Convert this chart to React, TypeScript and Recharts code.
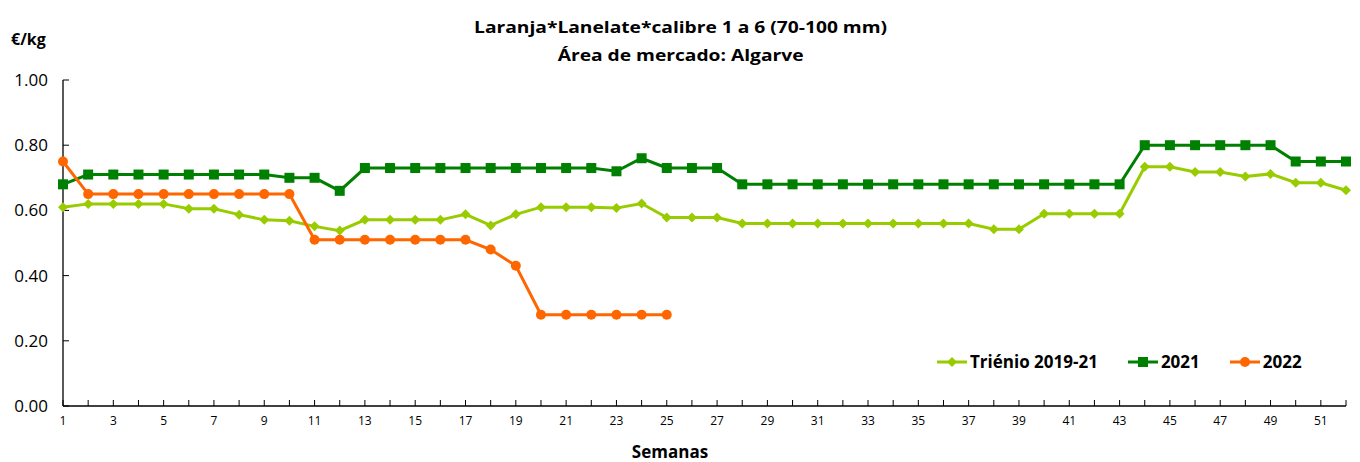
import { LineChart, Line, XAxis, YAxis, Legend } from 'recharts';

const weeks = Array.from({ length: 52 }, (_, i) => i + 1);

// Triénio 2019-21
const trienio = [
  0.61, 0.62, 0.62, 0.62, 0.62, 0.605, 0.605, 0.587, 0.571, 0.568,
  0.551, 0.538, 0.571, 0.571, 0.571, 0.571, 0.588, 0.554, 0.588, 0.61,
  0.61, 0.61, 0.607, 0.621, 0.578, 0.578, 0.578, 0.56, 0.56, 0.56,
  0.56, 0.56, 0.56, 0.56, 0.56, 0.56, 0.56, 0.542, 0.542, 0.59,
  0.59, 0.59, 0.59, 0.734, 0.734, 0.718, 0.718, 0.704, 0.712, 0.685,
  0.685, 0.662,
];

const y2021 = [
  0.68, 0.71, 0.71, 0.71, 0.71, 0.71, 0.71, 0.71, 0.71, 0.70,
  0.70, 0.66, 0.73, 0.73, 0.73, 0.73, 0.73, 0.73, 0.73, 0.73,
  0.73, 0.73, 0.72, 0.76, 0.73, 0.73, 0.73, 0.68, 0.68, 0.68,
  0.68, 0.68, 0.68, 0.68, 0.68, 0.68, 0.68, 0.68, 0.68, 0.68,
  0.68, 0.68, 0.68, 0.80, 0.80, 0.80, 0.80, 0.80, 0.80, 0.75,
  0.75, 0.75,
];

const y2022 = [
  0.75, 0.65, 0.65, 0.65, 0.65, 0.65, 0.65, 0.65, 0.65, 0.65,
  0.51, 0.51, 0.51, 0.51, 0.51, 0.51, 0.51, 0.48, 0.43, 0.28,
  0.28, 0.28, 0.28, 0.28, 0.28,
];

const yTicks = [0, 0.2, 0.4, 0.6, 0.8, 1.0];

const data = weeks.map((w, i) => ({
  week: w,
  trienio: trienio[i],
  y2021: y2021[i],
  y2022: i < y2022.length ? y2022[i] : null,
}));

const FONT = '"Open Sans", Lato, sans-serif';
const LIGHT = '#99CC00';
const DARK = '#008000';
const ORANGE = '#FF6600';

const Diamond = (props: any) => {
  const { cx, cy } = props;
  if (cx == null || cy == null) return null;
  const r = 5;
  return (
    <path
      key={props.key ?? `${cx}-${cy}`}
      d={`M${cx},${cy - r}L${cx + r},${cy}L${cx},${cy + r}L${cx - r},${cy}Z`}
      fill={LIGHT}
    />
  );
};

const Square = (props: any) => {
  const { cx, cy } = props;
  if (cx == null || cy == null) return null;
  const s = 10;
  return <rect key={props.key ?? `${cx}-${cy}`} x={cx - s / 2} y={cy - s / 2} width={s} height={s} fill={DARK} />;
};

const Circle = (props: any) => {
  const { cx, cy } = props;
  if (cx == null || cy == null) return null;
  return <circle key={props.key ?? `${cx}-${cy}`} cx={cx} cy={cy} r={5} fill={ORANGE} />;
};

const legendItems = [
  { name: 'Triénio 2019-21', color: LIGHT, shape: 'diamond' },
  { name: '2021', color: DARK, shape: 'square' },
  { name: '2022', color: ORANGE, shape: 'circle' },
];

const CustomLegend = () => (
  <div style={{ display: 'flex', alignItems: 'center', fontFamily: FONT, fontWeight: 700, fontSize: 17, color: '#000' }}>
    {legendItems.map((it) => (
      <div key={it.name} style={{ display: 'flex', alignItems: 'center', marginRight: 30 }}>
        <svg width={30} height={12} style={{ marginRight: 3 }}>
          <line x1={0} y1={6} x2={30} y2={6} stroke={it.color} strokeWidth={3} />
          {it.shape === 'diamond' && <path d="M15,1L20,6L15,11L10,6Z" fill={it.color} />}
          {it.shape === 'square' && <rect x={10} y={1} width={10} height={10} fill={it.color} />}
          {it.shape === 'circle' && <circle cx={15} cy={6} r={5} fill={it.color} />}
        </svg>
        <span>{it.name}</span>
      </div>
    ))}
  </div>
);

export default function App() {
  return (
    <div style={{ position: 'absolute', left: 0, top: 0, width: 1360, height: 462, background: '#fff', fontFamily: FONT }}>
      <div style={{ position: 'absolute', left: 0, width: 1360, top: 13, textAlign: 'center', fontWeight: 700, fontSize: 16, lineHeight: '28px', color: '#000', transform: 'scaleX(1.2)', transformOrigin: '677px 0' }}>
        <div>Laranja*Lanelate*calibre 1 a 6 (70-100 mm)</div>
        <div>Área de mercado: Algarve</div>
      </div>
      <div style={{ position: 'absolute', left: 11, top: 28, fontWeight: 700, fontSize: 16, color: '#000' }}>€/kg</div>
      <div style={{ position: 'absolute', left: 0, width: 1340, top: 440, textAlign: 'center', fontWeight: 700, fontSize: 17, color: '#000' }}>Semanas</div>
      <LineChart width={1360} height={462} data={data} margin={{ top: 80, right: 14, bottom: 26, left: 13 }}>
        <XAxis
          dataKey="week"
          type="number"
          domain={[1, 52]}
          ticks={weeks}
          interval={0}
          tickFormatter={(v: number) => (v % 2 === 1 ? String(v) : '')}
          height={30}
          tickSize={-6}
          tickMargin={16}
          axisLine={{ stroke: '#000', strokeWidth: 1.3 }}
          tickLine={{ stroke: '#000' }}
          tick={{ fontSize: 12, fill: '#000', fontFamily: FONT }}
        />
        <YAxis
          domain={[0, 1]}
          ticks={yTicks}
          width={50}
          tickSize={-6}
          tickMargin={21}
          tickFormatter={(v: number) => v.toFixed(2)}
          axisLine={{ stroke: '#000', strokeWidth: 1.3 }}
          tickLine={{ stroke: '#000' }}
          tick={{ fontSize: 17, fill: '#000', fontFamily: FONT }}
        />
        <Legend
          layout="horizontal"
          verticalAlign="middle"
          align="center"
          content={() => <CustomLegend />}
          wrapperStyle={{ position: 'absolute', left: 937, top: 350, width: 420 }}
        />
        <Line type="linear" dataKey="trienio" name="Triénio 2019-21" stroke={LIGHT} strokeWidth={3} dot={Diamond} isAnimationActive={false} />
        <Line type="linear" dataKey="y2021" name="2021" stroke={DARK} strokeWidth={3} dot={Square} isAnimationActive={false} />
        <Line type="linear" dataKey="y2022" name="2022" stroke={ORANGE} strokeWidth={3} dot={Circle} isAnimationActive={false} />
      </LineChart>
    </div>
  );
}
